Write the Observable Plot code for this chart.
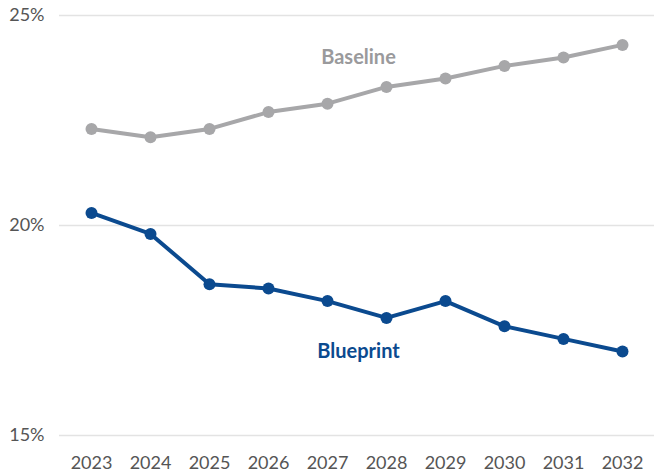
<!DOCTYPE html>
<html>
<head>
<meta charset="utf-8">
<script src="https://cdn.jsdelivr.net/npm/d3@7"></script>
<script src="https://cdn.jsdelivr.net/npm/@observablehq/plot@0.6"></script>
<style>
  html, body { margin: 0; padding: 0; background: #fff; }
  #chart { width: 661px; height: 476px; }
</style>
</head>
<body>
<div id="chart"></div>
<script>
const years = ["2023","2024","2025","2026","2027","2028","2029","2030","2031","2032"];
const baseline = [22.3, 22.1, 22.3, 22.7, 22.9, 23.3, 23.5, 23.8, 24.0, 24.3];
const blueprint = [20.3, 19.8, 18.6, 18.5, 18.2, 17.8, 18.2, 17.6, 17.3, 17.0];
const yTicks = [15, 20, 25];
const seriesNames = ["Baseline", "Blueprint"];
const seriesColors = ["#a7a7a9", "#0b4a8f"];
const labelColors = ["#9a9a9c", "#0b4a8f"];
const labelYear = ["2027", "2027"];
const labelValue = [24.0, 17.0];

const data = [];
years.forEach((y, i) => {
  data.push({series: seriesNames[0], year: y, value: baseline[i]});
  data.push({series: seriesNames[1], year: y, value: blueprint[i]});
});
const labels = seriesNames.map((s, i) => ({series: s, year: labelYear[i], value: labelValue[i], color: labelColors[i]}));

const chart = Plot.plot({
  width: 661,
  height: 476,
  marginTop: 15,
  marginBottom: 41,
  marginLeft: 59,
  marginRight: 7,
  style: {fontFamily: "Lato, sans-serif", fontSize: "18px", color: "#555", background: "#fff"},
  x: {type: "point", domain: years, padding: 0.5, label: null},
  y: {domain: [15, 25], label: null},
  color: {domain: seriesNames, range: seriesColors},
  marks: [
    Plot.gridY(yTicks, {stroke: "#e3e3e3", strokeOpacity: 1, strokeWidth: 1.5}),
    Plot.axisY(yTicks, {tickSize: 0, tickPadding: 15, tickFormat: d => d + "%", fontSize: 18, fill: "#555", label: null}),
    Plot.axisX(years, {tickSize: 0, tickPadding: 21, fontSize: 18, fill: "#555", label: null}),
    Plot.line(data, {x: "year", y: "value", z: "series", stroke: "series", strokeWidth: 4}),
    Plot.dot(data, {x: "year", y: "value", fill: "series", r: 6}),
    Plot.text(labels, {x: "year", y: "value", text: "series", fill: d => d.color, dx: 31, fontSize: 20, fontWeight: "bold"})
  ]
});
document.getElementById("chart").appendChild(chart);
</script>
</body>
</html>
